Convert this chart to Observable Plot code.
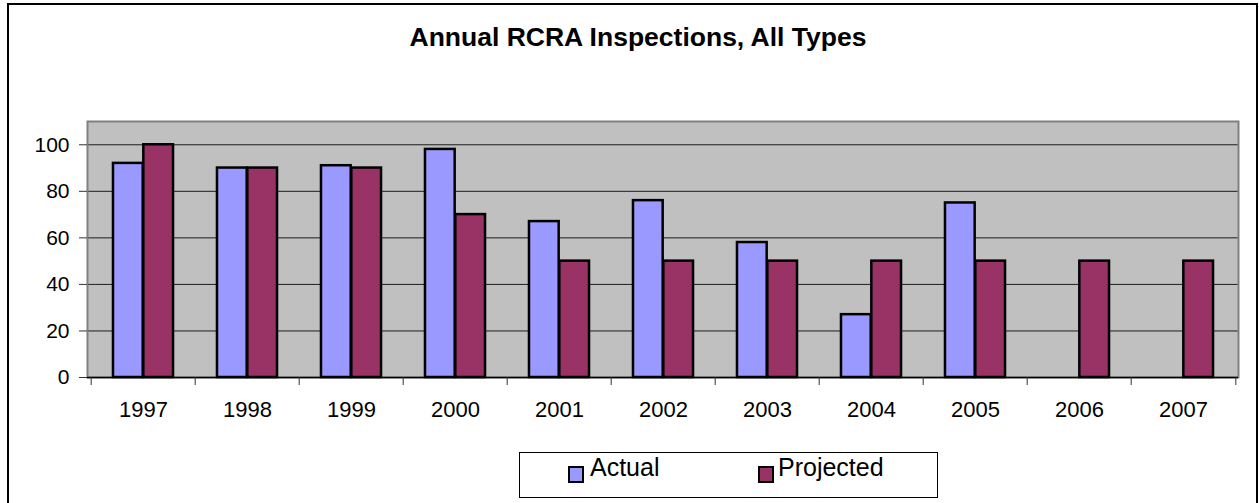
<!DOCTYPE html>
<html><head><meta charset="utf-8">
<script src="https://cdn.jsdelivr.net/npm/d3@7"></script>
<script src="https://cdn.jsdelivr.net/npm/@observablehq/plot@0.6"></script>
<style>
body{margin:0;background:#fff;font-family:"Liberation Sans",Arial,sans-serif;color:#000;}
#wrap{position:relative;width:1259px;height:503px;overflow:hidden;}
#border{position:absolute;left:7px;top:3px;width:1251px;height:540px;border:2px solid #000;box-sizing:border-box;}
#title{position:absolute;top:24px;left:0;width:1276px;text-align:center;font-weight:bold;font-size:26.5px;line-height:26px;}
#chart{position:absolute;top:100px;left:0;}
#legend{position:absolute;left:519px;top:452px;width:419px;height:46px;border:1px solid #000;box-sizing:border-box;background:#fff;}
.sw{position:absolute;width:16px;height:17px;border:2px solid #000;box-sizing:border-box;top:13px;}
.lt{position:absolute;top:1.5px;font-size:25px;line-height:25px;white-space:nowrap;}
</style></head>
<body>
<div id="wrap">
  <div id="border"></div>
  <div id="title"></div>
  <div id="chart"></div>
  <div id="legend"></div>
</div>
<script>
const chartTitle = "Annual RCRA Inspections, All Types";
const years = ["1997","1998","1999","2000","2001","2002","2003","2004","2005","2006","2007"];
const actual = [92, 90, 91, 98, 67, 76, 58, 27, 75, null, null];
const projected = [100, 90, 90, 70, 50, 50, 50, 50, 50, 50, 50];
const seriesNames = ["Actual", "Projected"];
const seriesColors = ["#9999FF", "#993366"];
const yTicks = [0, 20, 40, 60, 80, 100];

document.getElementById("title").textContent = chartTitle;

const W = 1259, H = 330, mL = 87, mR = 21, mT = 21, mB = 53;
const bw = (W - mL - mR) / years.length;

const rows = years.flatMap((y, i) => [
  {year: y, series: seriesNames[0], value: actual[i]},
  {year: y, series: seriesNames[1], value: projected[i]}
]).filter(d => d.value != null);

const chart = Plot.plot({
  width: W, height: H,
  marginLeft: mL, marginRight: mR, marginTop: mT, marginBottom: mB,
  style: {fontFamily: "Liberation Sans, Arial, sans-serif", fontSize: "21px", color: "#000", background: "transparent", overflow: "visible"},
  x: {domain: years, padding: 0, axis: null, label: null},
  y: {domain: [0, 110], axis: null, label: null},
  color: {domain: seriesNames, range: seriesColors},
  marks: [
    Plot.frame({fill: "#c0c0c0"}),
    Plot.gridY(yTicks.slice(1), {stroke: "#000", strokeOpacity: 0.85, strokeWidth: 1}),
    Plot.frame({stroke: "#808080", strokeWidth: 2}),
    Plot.barY(rows.filter(d => d.series === seriesNames[0]), {
      x: "year", y: "value", fill: "series", stroke: "#000", strokeWidth: 2.5,
      insetLeft: 0.21 * bw, insetRight: 0.5 * bw
    }),
    Plot.barY(rows.filter(d => d.series === seriesNames[1]), {
      x: "year", y: "value", fill: "series", stroke: "#000", strokeWidth: 2.5,
      insetLeft: 0.5 * bw, insetRight: 0.21 * bw
    }),
    Plot.ruleY([0], {stroke: "#000", strokeWidth: 1.5}),
    Plot.axisY(yTicks, {tickSize: 8, tickPadding: 10, fontSize: 21, stroke: "#333", label: null}),
    Plot.axisX(years, {tickSize: 8, tickFormat: () => "", dx: -bw / 2, stroke: "#333", label: null}),
    Plot.axisX(years.slice(-1), {tickSize: 8, tickFormat: () => "", dx: bw / 2, stroke: "#333", label: null}),
    Plot.axisX(years, {tickSize: 0, tickPadding: 24, fontSize: 22, label: null})
  ]
});
document.getElementById("chart").appendChild(chart);

const legend = document.getElementById("legend");
const swLeft = [48, 238], txtLeft = [70, 258];
seriesNames.forEach((name, i) => {
  const sw = document.createElement("div");
  sw.className = "sw";
  sw.style.left = swLeft[i] + "px";
  sw.style.background = seriesColors[i];
  legend.appendChild(sw);
  const t = document.createElement("div");
  t.className = "lt";
  t.style.left = txtLeft[i] + "px";
  t.textContent = name;
  legend.appendChild(t);
});
</script>
</body></html>
